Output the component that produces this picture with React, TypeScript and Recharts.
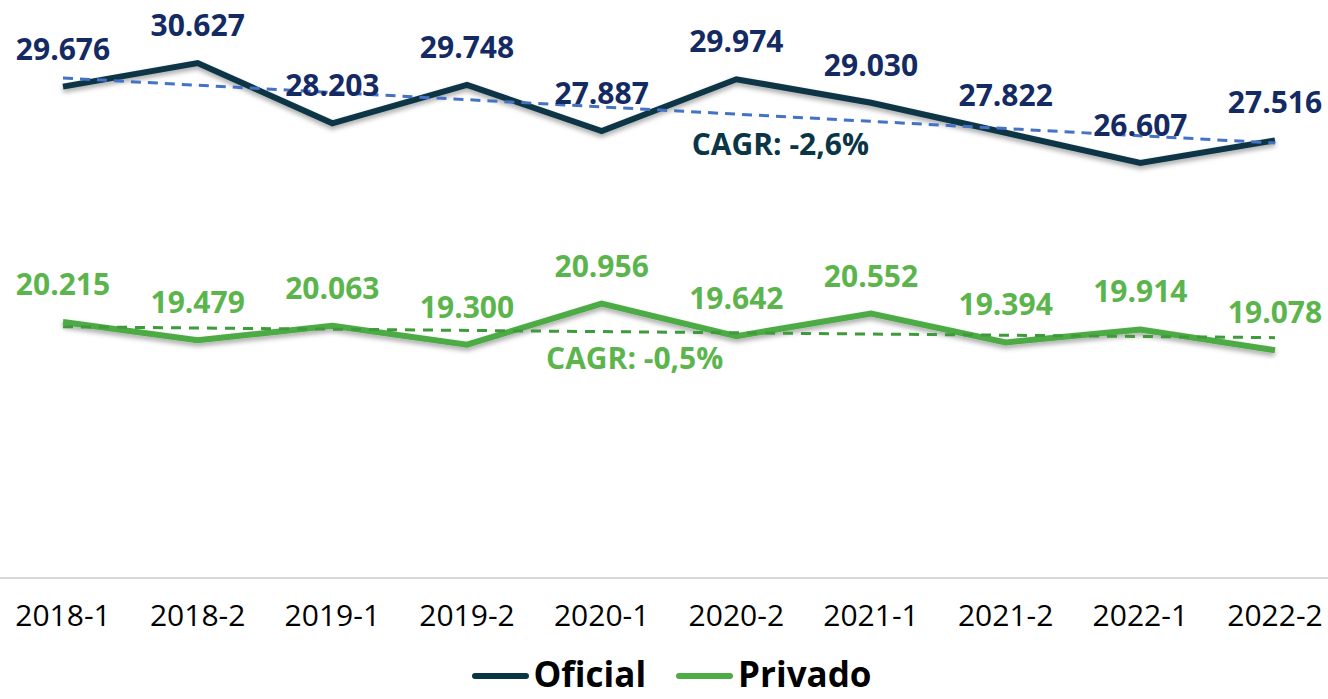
import { LineChart, Line, XAxis, YAxis, LabelList, Legend, ReferenceDot, Label } from "recharts";

const periods = ["2018-1", "2018-2", "2019-1", "2019-2", "2020-1", "2020-2", "2021-1", "2021-2", "2022-1", "2022-2"];
const oficial = [29676, 30627, 28203, 29748, 27887, 29974, 29030, 27822, 26607, 27516];
const privado = [20215, 19479, 20063, 19300, 20956, 19642, 20552, 19394, 19914, 19078];
// trend lines: only the two ends, the rest is joined by connectNulls
const oficialTrend = [30024, null, null, null, null, null, null, null, null, 27411];
const privadoTrend = [20022, null, null, null, null, null, null, null, null, 19584];
const cagrOficial = { label: "CAGR: -2,6%", at: "2020-2", value: 27370 };
const cagrPrivado = { label: "CAGR: -0,5%", at: "2020-1", value: 18770 };

const data = periods.map((p, i) => ({
  name: p,
  oficial: oficial[i],
  privado: privado[i],
  oficialTrend: oficialTrend[i],
  privadoTrend: privadoTrend[i],
}));

const fmt = (v: any) => String(v).replace(/\B(?=(\d{3})+(?!\d))/g, ".");

const DARK = "#0a3545";
const GREEN = "#4eab45";

function LegendBox() {
  const items = [
    { name: "Oficial", color: DARK },
    { name: "Privado", color: GREEN },
  ];
  return (
    <div style={{ display: "flex", justifyContent: "center", alignItems: "center", gap: 30, paddingLeft: 15 }}>
      {items.map((it) => (
        <div key={it.name} style={{ display: "flex", alignItems: "center" }}>
          <span style={{ display: "inline-block", width: 57, height: 6, borderRadius: 3, background: it.color, marginRight: 5, marginTop: 4 }} />
          <span style={{ fontSize: 35, fontWeight: 700, color: "#000", lineHeight: "35px" }}>{it.name}</span>
        </div>
      ))}
    </div>
  );
}

export default function App() {
  return (
    <div style={{ position: "absolute", left: 0, top: 0, width: 1328, height: 699, overflow: "hidden", background: "#fff" }}>
      <LineChart width={1328} height={699} data={data} margin={{ top: 4, right: 0, bottom: 0, left: 0 }} style={{ fontFamily: "'Open Sans', sans-serif" }}>
        <defs>
          <filter id="shadow" x="-5%" y="-50%" width="110%" height="200%">
            <feDropShadow dx="0" dy="3" stdDeviation="2.5" floodColor="#000" floodOpacity="0.35" />
          </filter>
        </defs>
        <XAxis
          dataKey="name"
          scale="point"
          padding={{ left: 63, right: 53 }}
          height={121}
          axisLine={{ stroke: "#d9d9d9", strokeWidth: 2 }}
          tickLine={false}
          tickSize={0}
          tickMargin={27}
          tick={{ fill: "#000", fontSize: 30 }}
          interval={0}
        />
        <YAxis hide domain={[9920, 33000]} />
        <Line dataKey="oficial" stroke={DARK} strokeWidth={6} dot={false} activeDot={false} filter="url(#shadow)" isAnimationActive={false} />
        <Line dataKey="privado" stroke={GREEN} strokeWidth={6} dot={false} activeDot={false} filter="url(#shadow)" isAnimationActive={false} />
        <Line dataKey="oficialTrend" stroke="#4472c4" strokeWidth={3} strokeDasharray="10 7" dot={false} activeDot={false} connectNulls isAnimationActive={false} />
        <Line dataKey="privadoTrend" stroke="#3e9a3b" strokeWidth={3} strokeDasharray="10 8" dot={false} activeDot={false} connectNulls isAnimationActive={false} />
        <Line dataKey="oficial" stroke="none" dot={false} activeDot={false} isAnimationActive={false}>
          <LabelList dataKey="oficial" position="top" offset={27} formatter={fmt} fill="#142a63" fontSize={30} fontWeight={700} />
        </Line>
        <Line dataKey="privado" stroke="none" dot={false} activeDot={false} isAnimationActive={false}>
          <LabelList dataKey="privado" position="top" offset={27} formatter={fmt} fill="#5bb54c" fontSize={30} fontWeight={700} />
        </Line>
        <ReferenceDot x={cagrOficial.at} y={cagrOficial.value} r={0} fill="none" stroke="none">
          <Label value={cagrOficial.label} position="center" dx={44} fill={DARK} fontSize={30} fontWeight={700} />
        </ReferenceDot>
        <ReferenceDot x={cagrPrivado.at} y={cagrPrivado.value} r={0} fill="none" stroke="none">
          <Label value={cagrPrivado.label} position="center" dx={33} fill="#5bb54c" fontSize={30} fontWeight={700} />
        </ReferenceDot>
        <Legend verticalAlign="middle" align="center" content={() => <LegendBox />} wrapperStyle={{ top: 656, left: 0, width: 1328 }} />
      </LineChart>
    </div>
  );
}
